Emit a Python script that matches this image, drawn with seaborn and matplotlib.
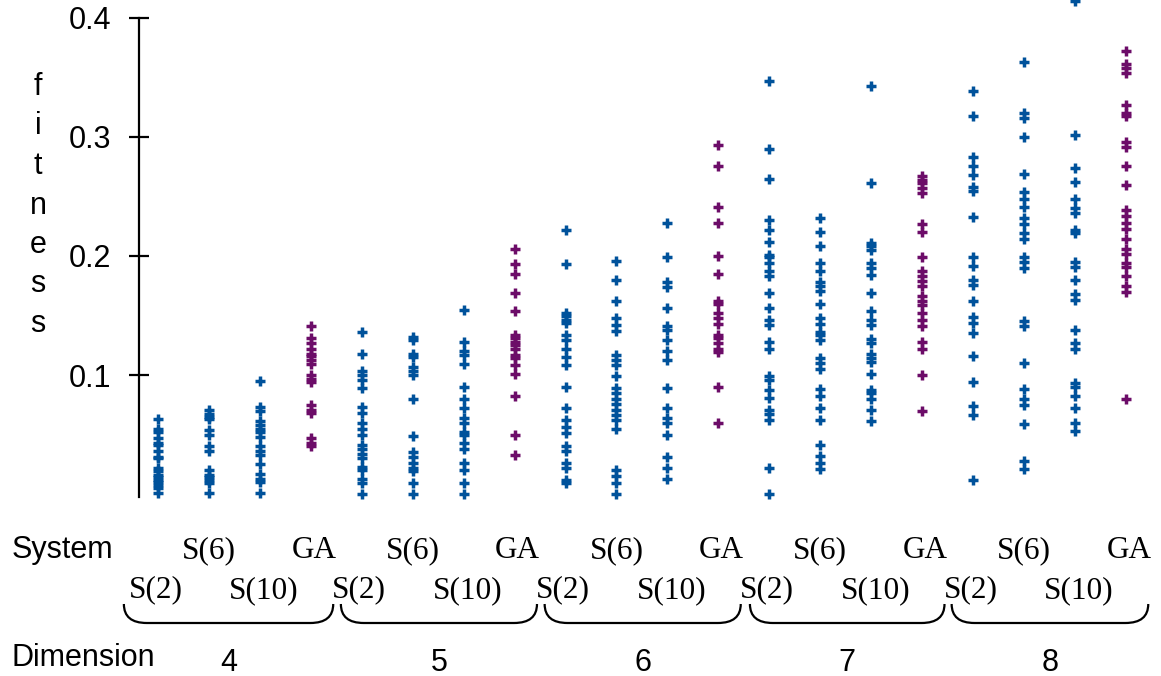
import numpy as np
import pandas as pd
import matplotlib
matplotlib.use("Agg")
import matplotlib.pyplot as plt
import seaborn as sns
from matplotlib.path import Path
from matplotlib.patches import PathPatch
from matplotlib.transforms import blended_transform_factory

# ---------------- data ----------------
dimensions = [4, 5, 6, 7, 8]
systems = ["S(2)", "S(6)", "S(10)", "GA"]

d4_s2 = [0.063, 0.055, 0.052, 0.047, 0.043, 0.041, 0.036, 0.031, 0.030, 0.022, 0.019,
         0.016, 0.014, 0.012, 0.010, 0.008, 0.005, 0.001]
d4_s6 = [0.071, 0.067, 0.065, 0.063, 0.054, 0.050, 0.040, 0.036, 0.020, 0.016, 0.014,
         0.012, 0.009, 0.001]
d4_s10 = [0.095, 0.073, 0.070, 0.061, 0.058, 0.055, 0.052, 0.048, 0.040, 0.036, 0.033,
          0.025, 0.017, 0.013, 0.010, 0.001]
d4_ga = [0.141, 0.131, 0.127, 0.122, 0.118, 0.116, 0.113, 0.109, 0.100, 0.097, 0.094,
         0.075, 0.071, 0.068, 0.047, 0.043, 0.040]

d5_s2 = [0.136, 0.118, 0.103, 0.100, 0.096, 0.089, 0.073, 0.068, 0.060, 0.055, 0.050,
         0.041, 0.038, 0.034, 0.030, 0.023, 0.020, 0.013, 0.009, 0.000]
d5_s6 = [0.132, 0.129, 0.118, 0.115, 0.107, 0.103, 0.100, 0.080, 0.049, 0.035, 0.031,
         0.026, 0.022, 0.019, 0.009, 0.000]
d5_s10 = [0.155, 0.128, 0.120, 0.117, 0.109, 0.090, 0.080, 0.072, 0.064, 0.060, 0.052,
          0.050, 0.043, 0.038, 0.026, 0.020, 0.009, 0.000]
d5_ga = [0.206, 0.193, 0.185, 0.169, 0.154, 0.134, 0.131, 0.128, 0.125, 0.122, 0.117,
         0.114, 0.108, 0.101, 0.082, 0.050, 0.033]

d6_s2 = [0.222, 0.193, 0.152, 0.150, 0.146, 0.144, 0.134, 0.129, 0.122, 0.115, 0.108,
         0.090, 0.072, 0.062, 0.056, 0.051, 0.040, 0.036, 0.026, 0.022, 0.012, 0.009]
d6_s6 = [0.196, 0.180, 0.162, 0.148, 0.142, 0.137, 0.117, 0.113, 0.108, 0.099, 0.089,
         0.085, 0.080, 0.076, 0.071, 0.066, 0.062, 0.055, 0.020, 0.015, 0.009, 0.000]
d6_s10 = [0.228, 0.199, 0.178, 0.174, 0.156, 0.141, 0.138, 0.129, 0.120, 0.113, 0.089,
          0.072, 0.064, 0.060, 0.050, 0.031, 0.022, 0.013]
d6_ga = [0.293, 0.276, 0.241, 0.228, 0.200, 0.185, 0.162, 0.160, 0.152, 0.148, 0.143,
         0.134, 0.131, 0.127, 0.122, 0.119, 0.090, 0.060]

d7_s2 = [0.347, 0.290, 0.265, 0.230, 0.222, 0.212, 0.201, 0.199, 0.194, 0.187, 0.183,
         0.169, 0.156, 0.146, 0.142, 0.128, 0.122, 0.099, 0.096, 0.087, 0.081, 0.071,
         0.067, 0.062, 0.022, 0.000]
d7_s6 = [0.232, 0.220, 0.208, 0.194, 0.187, 0.178, 0.175, 0.171, 0.160, 0.148, 0.143,
         0.136, 0.134, 0.129, 0.114, 0.110, 0.105, 0.088, 0.082, 0.072, 0.062, 0.041,
         0.032, 0.026, 0.021]
d7_s10 = [0.343, 0.261, 0.211, 0.208, 0.205, 0.194, 0.190, 0.184, 0.169, 0.154, 0.146,
          0.142, 0.130, 0.127, 0.118, 0.114, 0.111, 0.101, 0.087, 0.085, 0.080, 0.071,
          0.061]
d7_ga = [0.267, 0.264, 0.261, 0.257, 0.253, 0.227, 0.220, 0.199, 0.187, 0.183, 0.179,
         0.175, 0.166, 0.162, 0.159, 0.152, 0.146, 0.141, 0.128, 0.122, 0.100, 0.070]

d8_s2 = [0.339, 0.318, 0.283, 0.276, 0.268, 0.258, 0.255, 0.233, 0.199, 0.192, 0.180,
         0.176, 0.162, 0.149, 0.144, 0.135, 0.116, 0.094, 0.074, 0.066, 0.012]
d8_s6 = [0.363, 0.320, 0.316, 0.300, 0.269, 0.254, 0.248, 0.241, 0.232, 0.227, 0.219,
         0.214, 0.199, 0.195, 0.190, 0.145, 0.141, 0.110, 0.088, 0.080, 0.075, 0.059,
         0.028, 0.021]
d8_s10 = [0.414, 0.302, 0.274, 0.262, 0.248, 0.240, 0.236, 0.222, 0.219, 0.195, 0.191,
          0.180, 0.168, 0.163, 0.138, 0.127, 0.122, 0.093, 0.090, 0.082, 0.072, 0.060,
          0.053]
d8_ga = [0.372, 0.361, 0.358, 0.354, 0.327, 0.320, 0.318, 0.296, 0.292, 0.276, 0.260,
         0.239, 0.234, 0.228, 0.223, 0.214, 0.206, 0.202, 0.194, 0.191, 0.183, 0.175,
         0.170, 0.080]

runs = {
    4: [d4_s2, d4_s6, d4_s10, d4_ga],
    5: [d5_s2, d5_s6, d5_s10, d5_ga],
    6: [d6_s2, d6_s6, d6_s10, d6_ga],
    7: [d7_s2, d7_s6, d7_s10, d7_ga],
    8: [d8_s2, d8_s6, d8_s10, d8_ga],
}

rows = []
order = []
for d in dimensions:
    for s, vals in zip(systems, runs[d]):
        key = f"{d} {s}"
        order.append(key)
        for v in vals:
            rows.append({"column": key, "dimension": d, "system": s,
                         "method": "GA" if s == "GA" else "S", "fitness": v})
df = pd.DataFrame(rows)

# ---------------- style ----------------
BLUE = "#00529b"
PURPLE = "#6c0c68"
SANS = "Liberation Sans"
SERIF = "Liberation Serif"

sns.set_style("white")
plt.rcParams["font.family"] = [SANS, "DejaVu Sans"]
plt.rcParams["text.color"] = "black"
plt.rcParams["axes.labelcolor"] = "black"
plt.rcParams["ytick.color"] = "black"
plt.rcParams["xtick.color"] = "black"

W, H = 1161, 676
fig = plt.figure(figsize=(W / 100, H / 100), dpi=100)
ax = fig.add_axes([139 / W, 1 - 497 / H, 1 - 139 / W, 497 / H])

sns.stripplot(data=df, x="column", y="fitness", hue="method", order=order,
              palette={"S": BLUE, "GA": PURPLE}, jitter=False, marker="+",
              size=7.2, linewidth=2.5, legend=False, ax=ax, clip_on=False, zorder=3)

ax.set_xlim(-0.373, 19.69)
ax.set_ylim(-0.0025, 0.4151)
ax.set_yticks([0.1, 0.2, 0.3, 0.4])
ax.set_yticklabels(["0.1", "0.2", "0.3", "0.4"])
ax.set_xticks([])
ax.set_xlabel("")
ax.set_ylabel("")
for side in ["top", "right", "bottom"]:
    ax.spines[side].set_visible(False)
ax.spines["left"].set_bounds(-0.0025, 0.4)
ax.spines["left"].set_linewidth(1.6)
ax.spines["left"].set_color("black")
ax.tick_params(axis="y", direction="inout", length=14, width=1.6, pad=13,
               labelsize=22, colors="black", left=True)

# vertical "fitness" label
for k, ch in enumerate("fitness"):
    fig.text(38 / W, 1 - (87 + 39.5 * k) / H, ch, fontsize=22, family=SANS,
             ha="center", va="center", color="black")

# system labels, braces and dimension labels
trans = blended_transform_factory(ax.transData, fig.transFigure)
fig.text(12 / W, 1 - 550 / H, "System", fontsize=22, family=SANS, ha="left", va="center")
fig.text(12 / W, 1 - 658 / H, "Dimension", fontsize=22, family=SANS, ha="left", va="center")

row_y = {"S(2)": 1 - 590 / H, "S(6)": 1 - 551 / H, "S(10)": 1 - 591 / H, "GA": 1 - 551 / H}
row_dx = {"S(2)": -0.05, "S(6)": 0.0, "S(10)": 0.08, "GA": 0.06}
brace_left = [-0.67, -0.41, -0.41, -0.38, -0.42]
y_top = 1 - 604 / H
y_bot = 1 - 623 / H
for g, d in enumerate(dimensions):
    base = 4 * g
    for j, s in enumerate(systems):
        ax.text(base + j + row_dx[s], row_y[s], s, transform=trans, fontsize=22.5,
                family=SERIF, ha="center", va="center")
    x0, x1 = base + brace_left[g], base + 3.44
    r = 0.45
    verts = [(x0, y_top), (x0, y_bot), (x0 + r, y_bot), (x1 - r, y_bot),
             (x1, y_bot), (x1, y_top)]
    codes = [Path.MOVETO, Path.CURVE3, Path.CURVE3, Path.LINETO, Path.CURVE3, Path.CURVE3]
    ax.add_patch(PathPatch(Path(verts, codes), transform=trans, fill=False,
                           lw=1.6, edgecolor="black", clip_on=False))
    ax.text((x0 + x1) / 2, 1 - 663 / H, str(d), transform=trans, fontsize=22,
            family=SANS, ha="center", va="center")

fig.savefig("out.png", dpi=100)
